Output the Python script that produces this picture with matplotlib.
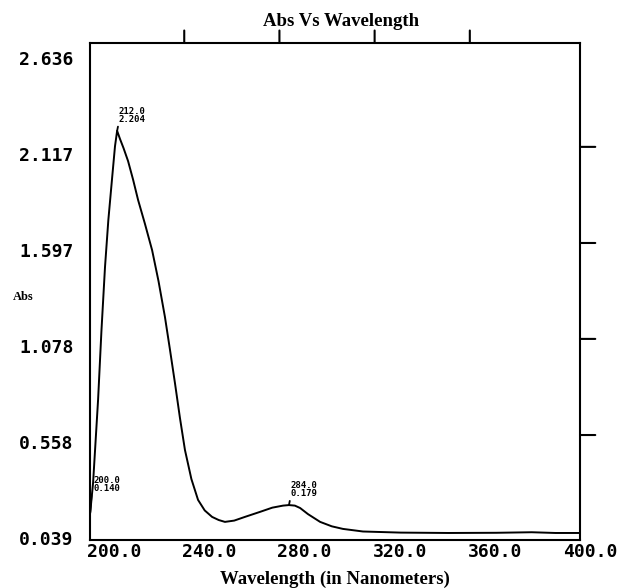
import matplotlib
matplotlib.use('Agg')
import matplotlib.pyplot as plt
import matplotlib.transforms as mtransforms

# spectrum
wavelength = [200.5, 201.7, 203.8, 205.2, 206.7, 208.1, 209.7, 210.9, 211.8, 213.0,
              214.5, 216.4, 218.5, 220.6, 223.5, 226.5, 229.2, 231.9, 234.0, 236.1,
              238.2, 240.3, 243.0, 245.8, 248.6, 251.7, 254.5, 257.1, 261.0, 265.5,
              271.8, 277.0, 281.5, 284.0, 286.5, 288.7, 292.0, 297.1, 302.0, 306.7,
              315.1, 331.0, 351.0, 371.0, 386.0, 396.0, 406.3]
absorbance = [0.14, 0.30, 0.75, 1.12, 1.466, 1.72, 1.95, 2.12, 2.204, 2.16,
              2.11, 2.04, 1.94, 1.83, 1.70, 1.558, 1.39, 1.196, 1.02, 0.839,
              0.65, 0.477, 0.32, 0.207, 0.15, 0.115, 0.098, 0.088, 0.095, 0.115,
              0.142, 0.165, 0.176, 0.179, 0.176, 0.163, 0.13, 0.088, 0.064, 0.05,
              0.036, 0.030, 0.028, 0.029, 0.032, 0.028, 0.028]

peak_x = [200.5, 211.8, 284.0]
peak_y = [0.14, 2.204, 0.179]
peak_text = ['200.0\n0.140', '212.0\n2.204', '284.0\n0.179']

yticks = [0.039, 0.558, 1.078, 1.597, 2.117, 2.636]
xticks = [200.0, 240.0, 280.0, 320.0, 360.0, 400.0]
xmin, xmax = 200.4, 406.3
ymin, ymax = -0.010, 2.679

fig = plt.figure(figsize=(6.25, 5.88), dpi=100)
ax = fig.add_axes([90 / 625, 1 - 540 / 588, 490 / 625, 497 / 588])
ax.plot(wavelength, absorbance, color='black', lw=1.4)
ax.set_xlim(xmin, xmax)
ax.set_ylim(ymin, ymax)

for sp in ax.spines.values():
    sp.set_linewidth(1.5)

# no ticks on left / bottom, labels drawn by hand
ax.tick_params(left=False, bottom=False, labelleft=False, labelbottom=False)

tick_font = dict(family='DejaVu Sans Mono', fontweight='bold', fontsize=13)
for v in yticks:
    off = mtransforms.offset_copy(ax.transData, fig=fig, x=-12, y=0, units='points')
    ax.text(xmin, v, '%.3f' % v, transform=off, ha='right', va='top',
            clip_on=False, **tick_font)
for v in xticks:
    off = mtransforms.offset_copy(ax.transData, fig=fig, x=-1.5, y=-2, units='points')
    ax.text(v, ymin, '%.1f' % v, transform=off, ha='left', va='top',
            clip_on=False, **tick_font)

# outward ticks on top and right
for v in xticks[1:-1]:
    ax.annotate('', xy=(v, ymax), xytext=(0, 9), textcoords='offset points',
                xycoords='data', arrowprops=dict(arrowstyle='-', lw=1.5, color='black',
                                                 shrinkA=0, shrinkB=0))
for v in yticks[1:-1]:
    ax.annotate('', xy=(xmax, v), xytext=(11, 0), textcoords='offset points',
                xycoords='data', arrowprops=dict(arrowstyle='-', lw=1.5, color='black',
                                                 shrinkA=0, shrinkB=0))

# peak markers
for i, (px, py, t) in enumerate(zip(peak_x, peak_y, peak_text)):
    if i == 0:
        xy_off, rel = (2, 14), (0, 1)
    else:
        xy_off, rel = (1, 5), (0, 0)
    ax.annotate(t, xy=(px, py), xytext=xy_off, textcoords='offset points',
                ha='left', va='bottom', fontsize=6.5, fontweight='bold',
                family='DejaVu Sans Mono', linespacing=0.85,
                arrowprops=dict(arrowstyle='-', lw=1.3, color='black',
                                shrinkA=0, shrinkB=0, relpos=rel))

fig.text(0.546, 0.963, 'Abs Vs Wavelength', ha='center', va='center',
         family='Liberation Serif', fontweight='bold', fontsize=13.5)
fig.text(0.536, 0.015, 'Wavelength (in Nanometers)', ha='center', va='center',
         family='Liberation Serif', fontweight='bold', fontsize=13.5)
fig.text(0.037, 0.495, 'Abs', ha='center', va='center',
         family='Liberation Serif', fontweight='bold', fontsize=9)

fig.savefig('out.png', dpi=100)
